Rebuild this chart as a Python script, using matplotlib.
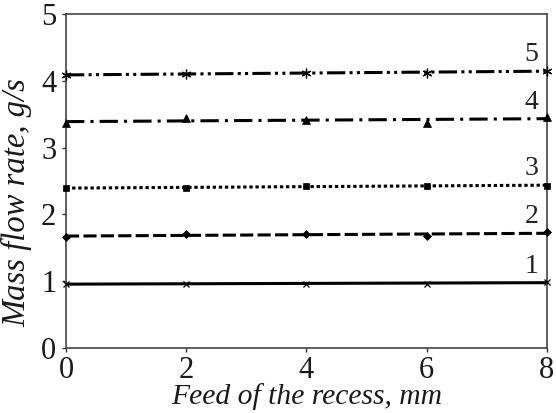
import numpy as np
import matplotlib
matplotlib.use("Agg")
import matplotlib.pyplot as plt

# Feed of the recess (mm) and measured mass flow rate (g/s) for five regimes
feed = [0, 2, 4, 6, 8]
flow_1 = [0.96, 0.96, 0.955, 0.955, 0.99]
flow_2 = [1.665, 1.70, 1.70, 1.675, 1.73]
flow_3 = [2.39, 2.40, 2.42, 2.43, 2.43]
flow_4 = [3.37, 3.44, 3.41, 3.37, 3.46]
flow_5 = [4.09, 4.10, 4.12, 4.12, 4.15]
curve_labels = ["1", "2", "3", "4", "5"]

x_ticks = [0, 2, 4, 6, 8]
y_ticks = [0, 1, 2, 3, 4, 5]

plt.rcParams["font.family"] = ["Liberation Serif", "DejaVu Serif"]

fig = plt.figure(figsize=(5.56, 4.13), dpi=100)
ax = fig.add_axes([0.1187, 0.158, 0.865, 0.808])

series = [flow_1, flow_2, flow_3, flow_4, flow_5]
styles = [
    dict(ls="-", marker="x", ms=5, mew=0.9),
    dict(ls=(0, (4.3, 1.4)), marker="D", ms=4.5, mew=0.5),
    dict(ls=(0, (1.1, 0.9)), marker="s", ms=5, mew=0.5),
    dict(ls=(0, (6.0, 2.0, 1.0, 2.0)), marker="^", ms=5.5, mew=0.5),
    dict(ls=(0, (6.0, 1.4, 1.0, 1.4, 1.0, 1.4)), marker=(6, 2, 0), ms=7, mew=0.9),
]

xs = np.array(feed, dtype=float)
for vals, st, lab in zip(series, styles, curve_labels):
    # straight trend line through the measured points
    k, b = np.polyfit(xs, vals, 1)
    xl = np.array([xs[0], xs[-1]])
    ax.plot(xl, k * xl + b, color="black", lw=2.2, ls=st["ls"],
            dash_capstyle="butt", zorder=2)
    ax.plot(xs, vals, ls="none", marker=st["marker"], ms=st["ms"],
            mew=st["mew"], color="black", zorder=3, clip_on=False)
    ax.annotate(lab, xy=(7.74, k * 8 + b), xytext=(0, 3),
                textcoords="offset points", ha="center", va="bottom",
                fontsize=20, color="#222222")

ax.set_xlim(0, 8)
ax.set_ylim(0, 5)
ax.set_xticks(x_ticks)
ax.set_yticks(y_ticks)
ax.tick_params(direction="out", length=3, width=1, labelsize=22,
               colors="#333333", labelcolor="#1a1a1a", pad=3)
ax.tick_params(axis="y", pad=4)
for sp in ax.spines.values():
    sp.set_color("#444444")
    sp.set_linewidth(1.2)

ax.set_xlabel("Feed of the recess, mm", fontsize=21.3, style="italic",
              color="#1a1a1a")
ax.set_ylabel("Mass flow rate, g/s", fontsize=23.5, style="italic",
              color="#1a1a1a")
ax.xaxis.set_label_coords(0.5, -0.105)
ax.yaxis.set_label_coords(-0.07, 0.434)

fig.savefig("out.png", dpi=100, facecolor="white")
